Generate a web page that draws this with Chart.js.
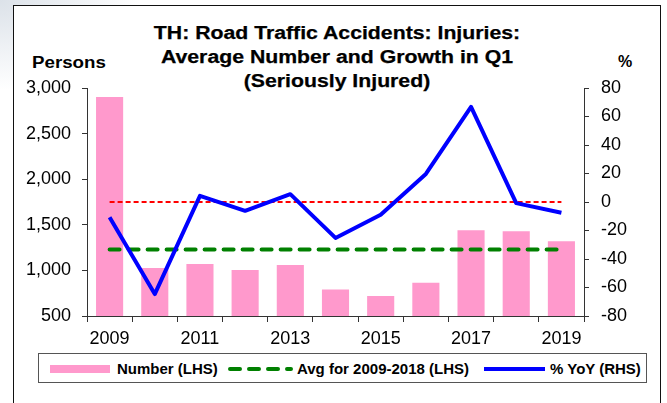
<!DOCTYPE html>
<html>
<head>
<meta charset="utf-8">
<script src="https://cdn.jsdelivr.net/npm/chart.js@4.4.1/dist/chart.umd.min.js"></script>
<style>
  html, body { margin: 0; padding: 0; }
  body {
    width: 667px; height: 403px; overflow: hidden; position: relative;
    background: radial-gradient(ellipse 140px 90px at 0 0, #dce2e9 0%, #ffffff 100%);
    font-family: "Liberation Sans", Arial, sans-serif;
  }
  #frame {
    position: absolute; left: 13px; top: 5px; width: 648px; height: 420px;
    border: 1px solid #111; background: #fff; box-sizing: border-box;
  }
  #wrap { position: absolute; left: 0; top: 0; width: 667px; height: 403px; }
  .lbl { position: absolute; font-weight: bold; color: #000; white-space: nowrap; }
  #title {
    left: 0; width: 674px; top: 21px; text-align: center;
    font-size: 18px; line-height: 24px; -webkit-text-stroke: 0.25px #000;
    transform: scaleX(1.18); transform-origin: 337px 0;
  }
  #persons { left: 32px; top: 55px; font-size: 16px; line-height: 16px; transform: scaleX(1.17); transform-origin: 0 0; }
  #pct { left: 618px; top: 54px; font-size: 16px; line-height: 16px; }
  #legend {
    position: absolute; left: 38px; top: 353px; width: 609px; height: 30px;
    border: 1.5px solid #555; box-sizing: border-box; background: #fff;
  }
  .leg { position: absolute; top: 361px; font-size: 15px; line-height: 15px; font-weight: bold; white-space: nowrap; }
  #legsvg { position: absolute; left: 0; top: 0; }
</style>
</head>
<body>
<div id="frame"></div>
<div class="lbl" id="title">TH: Road Traffic Accidents: Injuries:<br>Average Number and Growth in Q1<br>(Seriously Injured)</div>
<div class="lbl" id="persons">Persons</div>
<div class="lbl" id="pct">%</div>
<div id="wrap"><canvas id="chart"></canvas></div>
<div id="legend"></div>
<svg id="legsvg" width="667" height="403">
  <rect x="50" y="365" width="60" height="8" fill="#ff99cc"/>
  <line x1="230" y1="369" x2="291" y2="369" stroke="#008000" stroke-width="4" stroke-linecap="round" stroke-dasharray="10 9"/>
  <line x1="484" y1="369" x2="545" y2="369" stroke="#0000ff" stroke-width="4"/>
</svg>
<div class="leg" style="left:117px">Number (LHS)</div>
<div class="leg" style="left:297px">Avg for 2009-2018 (LHS)</div>
<div class="leg" style="left:550px">% YoY (RHS)</div>

<script>
// data
const years = ['2009', '2010', '2011', '2012', '2013', '2014', '2015', '2016', '2017', '2018', '2019'];
const shownYears = ['2009', '2011', '2013', '2015', '2017', '2019'];
const numberValues = [2900, 1025, 1070, 1005, 1060, 790, 720, 865, 1440, 1430, 1320];
const avgValues = [1230, 1230, 1230, 1230, 1230, 1230, 1230, 1230, 1230, 1230, 1230];
const yoyValues = [-10.7, -64.6, 4.3, -6.2, 5.5, -25.2, -8.9, 19.7, 66.7, -0.8, -7.6];
const zeroLine = [0, 0, 0, 0, 0, 0, 0, 0, 0, 0, 0];
const leftRange = [500, 3000, 500];
const rightRange = [-80, 80, 20];

const tickFont = { family: '"Liberation Sans", Arial, sans-serif', size: 18 };
const axisColor = '#333';

new Chart(document.getElementById('chart'), {
  type: 'bar',
  data: {
    labels: years,
    datasets: [
      {
        type: 'line', label: '% YoY (RHS)', data: yoyValues, yAxisID: 'y2',
        borderColor: '#0000ff', borderWidth: 4, pointRadius: 0, tension: 0,
        borderJoinStyle: 'round', fill: false
      },
      {
        type: 'line', label: 'zero', data: zeroLine, yAxisID: 'y2',
        borderColor: '#ff0000', borderWidth: 2, borderDash: [5, 3], pointRadius: 0, fill: false
      },
      {
        type: 'line', label: 'Avg for 2009-2018 (LHS)', data: avgValues, yAxisID: 'y',
        borderColor: '#008000', borderWidth: 4, borderDash: [10, 9], borderCapStyle: 'round',
        pointRadius: 0, fill: false
      },
      {
        label: 'Number (LHS)', data: numberValues, yAxisID: 'y',
        backgroundColor: '#ff99cc', categoryPercentage: 1, barPercentage: 0.6
      }
    ]
  },
  options: {
    responsive: true,
    maintainAspectRatio: false,
    animation: false,
    events: [],
    layout: { padding: { top: 88, left: 0, right: 0, bottom: 0 } },
    plugins: { legend: { display: false }, title: { display: false }, tooltip: { enabled: false } },
    scales: {
      x: {
        offset: true,
        afterFit: function(scale) { scale.height = 87; },
        grid: { offset: true, drawOnChartArea: false, drawTicks: true, tickLength: 6, color: axisColor },
        border: { display: true, color: axisColor },
        ticks: {
          autoSkip: false, maxRotation: 0, padding: 6, color: '#000', font: tickFont,
          callback: function(value, index) {
            const y = years[index];
            return shownYears.includes(y) ? y : '';
          }
        }
      },
      y: {
        position: 'left',
        min: leftRange[0], max: leftRange[1],
        afterFit: function(scale) { scale.width = 87; },
        grid: { drawOnChartArea: false, drawTicks: true, tickLength: 5, color: axisColor },
        border: { display: true, color: axisColor },
        ticks: { stepSize: leftRange[2], padding: 11, color: '#000', font: tickFont }
      },
      y2: {
        position: 'right',
        min: rightRange[0], max: rightRange[1],
        afterFit: function(scale) { scale.width = 83; },
        grid: { drawOnChartArea: false, drawTicks: true, tickLength: 5, color: axisColor },
        border: { display: true, color: axisColor },
        ticks: { stepSize: rightRange[2], padding: 12, color: '#000', font: tickFont }
      }
    }
  }
});
</script>
</body>
</html>
